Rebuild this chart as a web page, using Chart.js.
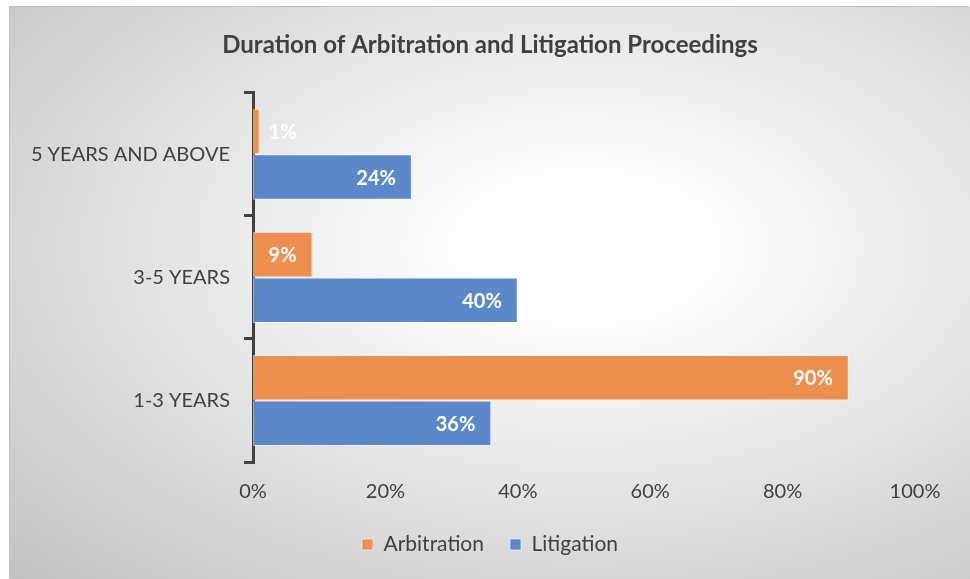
<!DOCTYPE html>
<html>
<head>
<meta charset="utf-8">
<script src="https://cdn.jsdelivr.net/npm/chart.js@4/dist/chart.umd.min.js"></script>
<style>
  html, body { margin: 0; padding: 0; background: #ffffff; }
  #wrap {
    position: absolute; left: 10px; top: 7px; width: 960px; height: 572px;
    background: radial-gradient(ellipse farthest-corner at 60% 42%, #ffffff 0%, #ffffff 14%, #c2c2c2 100%);
    box-shadow: -1px -1px 0 #c0c0c0;
  }
  canvas { position: absolute; left: 0; top: 0; }
</style>
</head>
<body>
<div id="wrap"><canvas id="c" width="960" height="572"></canvas></div>
<script>
const categories = ["5 YEARS AND ABOVE", "3-5 YEARS", "1-3 YEARS"];
const arbitration = [1, 9, 90];
const litigation = [24, 40, 36];
const xTicks = [0, 20, 40, 60, 80, 100];
const titleText = "Duration of Arbitration and Litigation Proceedings";

const FONT = "Lato, 'Noto Sans', sans-serif";
const TEXT = "#404040";

const valueLabels = {
  id: 'valueLabels',
  afterDatasetsDraw(chart) {
    const ctx = chart.ctx;
    ctx.save();
    ctx.font = "bold 20px " + FONT;
    ctx.fillStyle = "#ffffff";
    ctx.textBaseline = "middle";
    chart.data.datasets.forEach((ds, di) => {
      const meta = chart.getDatasetMeta(di);
      meta.data.forEach((bar, i) => {
        const txt = ds.data[i] + "%";
        const w = ctx.measureText(txt).width;
        const barW = bar.x - bar.base;
        if (barW > w + 20) {
          ctx.textAlign = "right";
          ctx.fillText(txt, bar.x - 16, bar.y + 1);
        } else {
          ctx.textAlign = "left";
          ctx.fillText(txt, bar.x + 9, bar.y + 1);
        }
      });
    });
    ctx.restore();
  }
};

new Chart(document.getElementById('c'), {
  type: 'bar',
  data: {
    labels: categories,
    datasets: [
      { label: 'Arbitration', data: arbitration, backgroundColor: '#ef8f4f', borderColor: 'rgba(255,255,255,0.55)', borderWidth: 1, borderSkipped: false },
      { label: 'Litigation', data: litigation, backgroundColor: '#5c87ca', borderColor: 'rgba(255,255,255,0.55)', borderWidth: 1, borderSkipped: false }
    ]
  },
  options: {
    indexAxis: 'y',
    responsive: false,
    animation: false,
    devicePixelRatio: 1,
    categoryPercentage: 0.74,
    barPercentage: 1.0,
    layout: { padding: { left: 0, right: 0, top: 0, bottom: 14 } },
    scales: {
      y: {
        grid: { display: true, drawOnChartArea: false, drawTicks: true, tickLength: 9, lineWidth: 3, color: '#404040', offset: true },
        border: { display: true, color: '#404040', width: 3 },
        ticks: { color: TEXT, font: { family: FONT, size: 20 }, padding: 14 },
        afterFit(scale) { scale.width = 243; }
      },
      yR: {
        axis: 'y', type: 'category', position: 'right', display: true,
        grid: { display: false, drawTicks: false },
        border: { display: false },
        ticks: { display: false },
        afterFit(scale) { scale.width = 55; }
      },
      x: {
        min: 0, max: 100,
        afterBuildTicks(scale) { scale.ticks = xTicks.map(v => ({ value: v })); },
        grid: { display: false, drawTicks: false },
        border: { display: false },
        ticks: { color: TEXT, font: { family: FONT, size: 20 }, padding: 18, callback: v => v + '%' },
        afterFit(scale) { scale.height = 46; }
      }
    },
    plugins: {
      title: { display: true, text: titleText, color: TEXT, font: { family: FONT, size: 24, weight: 'bold', lineHeight: 1.2 }, padding: { top: 24, bottom: 33 } },
      legend: {
        display: true, position: 'bottom',
        labels: { color: TEXT, font: { family: FONT, size: 21 }, boxWidth: 11, boxHeight: 11, padding: 26,
          generateLabels(chart) {
            return chart.data.datasets.map((ds, i) => ({
              text: ds.label, fillStyle: ds.backgroundColor, strokeStyle: 'rgba(255,255,255,0.6)', lineWidth: 1,
              fontColor: TEXT, datasetIndex: i, hidden: false
            }));
          }
        }
      },
      tooltip: { enabled: false }
    }
  },
  plugins: [valueLabels]
});
</script>
</body>
</html>
